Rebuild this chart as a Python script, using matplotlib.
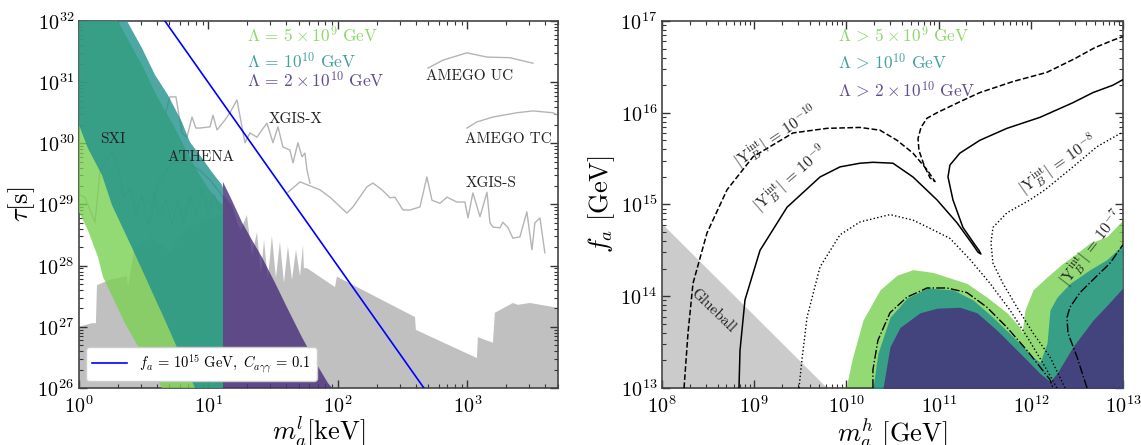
import numpy as np
import matplotlib
matplotlib.use("Agg")
import matplotlib.pyplot as plt

plt.rcParams['mathtext.fontset'] = 'cm'
plt.rcParams['font.family'] = 'serif'
plt.rcParams['font.serif'] = ['cmr10', 'DejaVu Serif']
plt.rcParams['axes.formatter.use_mathtext'] = True

# ---------------- left panel data (log10 m [keV], log10 tau [s]) ----------------
gray_lm = [0.000, 0.100, 0.131, 0.139, 0.239, 0.371, 0.378, 0.394, 0.425, 0.564, 0.703, 0.819,
           0.950, 1.104, 1.112, 1.181, 1.243, 1.297, 1.336, 1.375, 1.405, 1.429, 1.459, 1.490,
           1.521, 1.552, 1.583, 1.614, 1.645, 1.676, 1.707, 1.730, 1.737, 1.761, 1.977, 1.992,
           2.595, 2.602, 3.073, 3.081, 3.197, 3.212, 3.351, 3.390, 3.483, 3.699]
gray_lt = [27.00, 27.06, 27.06, 27.68, 27.77, 27.83, 27.65, 27.83, 28.26, 28.47, 28.21, 28.58,
           28.72, 28.83, 29.16, 28.99, 28.55, 28.83, 28.17, 28.55, 27.85, 28.42, 27.77, 28.49,
           27.80, 28.39, 27.72, 28.32, 27.77, 28.26, 27.83, 28.34, 27.96, 27.96, 27.65, 27.82,
           27.16, 26.95, 26.49, 26.83, 26.74, 27.23, 27.39, 27.36, 27.39, 27.31]

green_top_lm = [0.301, 0.486, 0.610, 0.741, 0.819, 0.919, 0.996, 1.073, 1.112]
green_top_lt = [32.00, 31.28, 30.74, 30.25, 29.92, 29.53, 29.27, 29.07, 28.99]
green_bot_lm = [0.000, 0.069, 0.147, 0.185, 0.355, 0.486, 0.641]
green_bot_lt = [28.88, 28.58, 28.14, 27.82, 27.06, 26.57, 26.00]

teal_top_lm = [0.371, 0.486, 0.587, 0.687, 0.795, 0.857, 0.950, 1.027, 1.104, 1.112]
teal_top_lt = [32.00, 31.56, 31.12, 30.79, 30.35, 30.02, 29.76, 29.53, 29.32, 29.27]
teal_bot_lm = [0.000, 0.069, 0.178, 0.255, 0.417, 0.664, 0.896]
teal_bot_lt = [30.30, 29.92, 29.48, 28.99, 28.26, 27.11, 26.00]

purple_lm = [1.112, 1.181, 1.259, 1.336, 1.413, 1.514, 1.606, 1.722, 1.830, 1.923, 1.954]
purple_lt = [29.37, 29.07, 28.71, 28.42, 28.14, 27.72, 27.32, 26.83, 26.41, 26.08, 26.00]

sxi_lm = [0.000, 0.046, 0.085, 0.124, 0.162, 0.208, 0.255, 0.301, 0.347, 0.394, 0.440, 0.486,
          0.533, 0.579, 0.625, 0.672, 0.718, 0.764, 0.811, 0.857, 0.903, 0.950, 0.996, 1.042,
          1.089, 1.135, 1.181]
sxi_lt = [29.16, 29.12, 28.91, 28.71, 29.53, 29.73, 29.86, 29.60, 29.11, 29.27, 28.83, 29.16,
          28.67, 29.20, 28.78, 29.11, 28.67, 29.07, 28.71, 29.14, 28.83, 29.24, 28.88, 29.16,
          28.91, 29.07, 28.83]
athena_lm = [0.548, 0.610, 0.664, 0.718, 0.780, 0.857, 0.934, 1.012, 1.073, 1.127, 1.181, 1.243]
athena_lt = [28.67, 29.32, 29.53, 29.68, 29.69, 29.65, 29.56, 29.40, 29.24, 29.07, 28.83, 28.58]
xgisx_lm = [0.664, 0.703, 0.749, 0.795, 0.834, 0.873, 0.903, 0.934, 1.012, 1.035, 1.066, 1.127,
            1.166, 1.220, 1.282, 1.320, 1.375, 1.413, 1.452, 1.498, 1.537, 1.575, 1.629, 1.653,
            1.691, 1.722, 1.745, 1.761, 1.784]
xgisx_lt = [30.46, 30.76, 30.76, 30.17, 30.10, 30.43, 30.25, 30.25, 30.27, 30.46, 30.22, 30.38,
            30.50, 30.71, 30.01, 30.17, 30.10, 30.22, 30.33, 30.01, 30.27, 29.94, 29.89, 29.68,
            30.01, 29.78, 29.84, 29.56, 29.35]
xgiss_lm = [1.614, 1.707, 1.861, 1.938, 2.069, 2.116, 2.224, 2.270, 2.340, 2.402, 2.440, 2.502,
            2.556, 2.633, 2.687, 2.726, 2.788, 2.842, 2.919, 2.981, 3.004, 3.042, 3.097, 3.151,
            3.174, 3.197, 3.251, 3.274, 3.313, 3.351, 3.405, 3.459, 3.498, 3.521, 3.560, 3.598]
xgiss_lt = [29.20, 29.37, 29.24, 29.12, 28.86, 28.96, 29.29, 29.35, 29.24, 29.11, 29.12, 28.91,
            28.91, 28.96, 29.45, 29.07, 29.02, 29.12, 29.04, 29.04, 28.78, 29.19, 28.80, 29.20,
            28.70, 28.63, 28.62, 28.71, 28.62, 28.45, 28.47, 28.88, 28.26, 28.70, 28.78, 28.21]
amego_uc_lm = [2.695, 2.811, 2.996, 3.151, 3.328, 3.506]
amego_uc_lt = [31.23, 31.36, 31.48, 31.41, 31.40, 31.31]
amego_tc_lm = [2.996, 3.073, 3.197, 3.382, 3.506, 3.660, 3.699]
amego_tc_lt = [30.25, 30.35, 30.43, 30.50, 30.53, 30.50, 30.46]

blue_m = [4.61, 461.0]
blue_tau = [1e32, 1e26]

left_labels = ['SXI', 'ATHENA', 'XGIS-X', 'AMEGO UC', 'AMEGO TC', 'XGIS-S']
lambda_left = [r'$\Lambda\, =\, 5\times 10^{9}\ \mathrm{GeV}$', r'$\Lambda\, =\, 10^{10}\ \mathrm{GeV}$',
               r'$\Lambda\, =\, 2\times 10^{10}\ \mathrm{GeV}$']
lambda_right = [r'$\Lambda\, >\, 5\times 10^{9}\ \mathrm{GeV}$', r'$\Lambda\, >\, 10^{10}\ \mathrm{GeV}$',
                r'$\Lambda\, >\, 2\times 10^{10}\ \mathrm{GeV}$']

# ---------------- right panel data (log10 m [GeV], log10 f_a [GeV]) ----------------
glue_lm = [8.0, 9.79]
glue_lf = [14.79, 13.0]

y10_lm = [8.239, 8.282, 8.336, 8.488, 8.705, 8.987, 9.421, 9.790, 10.148, 10.364, 10.549, 10.722,
          10.874, 10.961, 10.907, 10.842, 10.787, 10.777, 10.809, 10.874, 10.982, 11.231, 11.448,
          11.806, 12.174, 12.478, 12.695, 12.890, 12.998]
y10_lf = [13.00, 13.60, 14.14, 14.69, 15.16, 15.52, 15.78, 15.83, 15.84, 15.81, 15.70, 15.56,
          15.38, 15.25, 15.29, 15.43, 15.59, 15.72, 15.84, 15.94, 16.00, 16.12, 16.22,
          16.34, 16.44, 16.59, 16.71, 16.79, 16.83]
y9_lm = [8.835, 8.846, 8.900, 9.063, 9.356, 9.714, 9.931, 10.148, 10.288, 10.505, 10.722, 10.983,
         11.200, 11.373, 11.427, 11.459, 11.438, 11.395, 11.264, 11.156, 11.102, 11.123, 11.231,
         11.448, 11.741, 12.100, 12.458, 12.675, 12.890, 12.998]
y9_lf = [13.00, 13.41, 13.96, 14.50, 14.97, 15.30, 15.41, 15.45, 15.46, 15.45, 15.30, 15.05,
         14.80, 14.56, 14.48, 14.46, 14.50, 14.56, 14.75, 15.05, 15.30, 15.43, 15.56,
         15.70, 15.83, 15.95, 16.11, 16.22, 16.30, 16.36]
y8a_lm = [9.486, 9.518, 9.573, 9.714, 9.931, 10.148, 10.473, 10.722, 10.907, 11.124, 11.341,
          11.558, 11.774, 11.959, 12.132, 12.284]
y8a_lf = [13.00, 13.31, 13.77, 14.32, 14.67, 14.81, 14.89, 14.83, 14.74, 14.63, 14.40,
          14.14, 13.85, 13.56, 13.27, 13.00]
y8b_lm = [12.371, 12.208, 12.024, 11.850, 11.698, 11.590, 11.568, 11.590, 11.742, 11.991,
          12.154, 12.458, 12.718, 12.998]
y8b_lf = [13.00, 13.34, 13.60, 13.88, 14.14, 14.36, 14.58, 14.75, 14.91, 15.05,
          15.16, 15.41, 15.63, 15.79]
y7a_lm = [10.288, 10.288, 10.342, 10.473, 10.657, 10.874, 11.091, 11.308, 11.525, 11.742,
          11.959, 12.100, 12.208, 12.241]
y7a_lf = [13.00, 13.20, 13.52, 13.82, 13.99, 14.09, 14.09, 14.04, 13.88, 13.66,
          13.41, 13.23, 13.09, 13.00]
y7b_lm = [12.610, 12.501, 12.403, 12.393, 12.425, 12.534, 12.675, 12.859, 12.998]
y7b_lf = [13.00, 13.34, 13.60, 13.77, 13.88, 14.04, 14.18, 14.36, 14.56]

g5_lm = [9.996, 10.061, 10.180, 10.364, 10.549, 10.722, 10.939, 11.091, 11.308, 11.525, 11.742,
         11.883, 11.905, 11.937, 12.024, 12.176, 12.349, 12.501, 12.642, 12.826, 12.998]
g5_lf = [13.00, 13.31, 13.74, 14.07, 14.23, 14.29, 14.26, 14.21, 14.14, 13.99, 13.82,
         13.66, 13.60, 13.85, 14.07, 14.21, 14.36, 14.47, 14.58, 14.65, 14.83]
t10_lm = [10.288, 10.342, 10.473, 10.657, 10.874, 11.156, 11.373, 11.590, 11.807, 12.024, 12.100,
          12.176, 12.208, 12.284, 12.425, 12.642, 12.826, 12.998]
t10_lf = [13.00, 13.38, 13.77, 13.98, 14.09, 14.07, 13.96, 13.77, 13.56, 13.34, 13.28,
          13.49, 13.85, 13.99, 14.14, 14.29, 14.40, 14.56]
p20_lm = [10.397, 10.473, 10.581, 10.798, 10.983, 11.232, 11.416, 11.633, 11.883, 12.100, 12.208,
          12.284, 12.458, 12.675, 12.826, 12.998]
p20_lf = [13.00, 13.45, 13.66, 13.82, 13.87, 13.88, 13.82, 13.63, 13.38, 13.16, 13.07,
          13.16, 13.45, 13.74, 13.90, 14.09]

yb_labels = [r'$|\mathrm{Y}_B^{\rm int}|\, =\, 10^{-10}$', r'$|\mathrm{Y}_B^{\rm int}|\, =\, 10^{-9}$',
             r'$|\mathrm{Y}_B^{\rm int}|\, =\, 10^{-8}$', r'$|\mathrm{Y}_B^{\rm int}|\, =\, 10^{-7}$']

c_green, c_teal, c_purple = '#7ad151', '#21918c', '#472d7b'
c_gline = '#b4b4b4'


def P(a):
    return 10 ** np.asarray(a, dtype=float)


fig = plt.figure(figsize=(11.41, 4.45), dpi=100)
ax1 = fig.add_axes([0.0692, 0.1281, 0.4198, 0.8247])
ax2 = fig.add_axes([0.5802, 0.1281, 0.4040, 0.8247])

# ---------------- left ----------------
ax1.fill_between(P(gray_lm), 1e20, P(gray_lt), color='#c0c0c0', lw=0, zorder=1)
for lm, lt in [(sxi_lm, sxi_lt), (athena_lm, athena_lt), (xgisx_lm, xgisx_lt),
               (xgiss_lm, xgiss_lt), (amego_uc_lm, amego_uc_lt), (amego_tc_lm, amego_tc_lt)]:
    ax1.plot(P(lm), P(lt), color=c_gline, lw=1.0, zorder=2)

gx = [0.0] + green_top_lm + [1.112] + green_bot_lm[::-1]
gy = [32.0] + green_top_lt + [26.0] + green_bot_lt[::-1]
ax1.fill(P(gx), P(gy), color=c_green, alpha=0.8, lw=0, zorder=3)
tx = [0.0] + teal_top_lm + [1.112] + teal_bot_lm[::-1]
ty = [32.0] + teal_top_lt + [26.0] + teal_bot_lt[::-1]
ax1.fill(P(tx), P(ty), color=c_teal, alpha=0.8, lw=0, zorder=4)
px_ = purple_lm + [1.112]
py_ = purple_lt + [26.0]
ax1.fill(P(px_), P(py_), color=c_purple, alpha=0.8, lw=0, zorder=5)

ax1.plot(blue_m, blue_tau, color='blue', lw=1.2, zorder=6,
         label=r'$f_a\, =\, 10^{15}\ \mathrm{GeV},\ C_{a\gamma\gamma}\, =\, 0.1$')

lab_pos = [(0.071, 0.678), (0.255, 0.629), (0.453, 0.733), (0.816, 0.850), (0.896, 0.678), (0.860, 0.559)]
for s, (x, y) in zip(left_labels, lab_pos):
    ax1.text(x, y, s, transform=ax1.transAxes, ha='center', va='center', fontsize=11,
             color='#222222', zorder=7)
for s, c, y in zip(lambda_left, [c_green, c_teal, c_purple], [0.962, 0.891, 0.839]):
    ax1.text(0.351, y, s, transform=ax1.transAxes, ha='left', va='center', fontsize=12.5,
             color=c, alpha=0.85, zorder=7)

ax1.set_xscale('log')
ax1.set_yscale('log')
ax1.set_xlim(1, 5000)
ax1.set_ylim(1e26, 1e32)
ax1.set_xlabel(r'$m_a^l[\mathrm{keV}]$', fontsize=19, labelpad=-1)
ax1.set_ylabel(r'$\tau[\mathrm{s}]$', fontsize=19, labelpad=0)
leg = ax1.legend(loc='lower left', fontsize=10.5, handlelength=2.4, framealpha=1,
                 edgecolor='#cccccc', borderaxespad=0.5)
leg.set_zorder(8)

# ---------------- right ----------------
ax2.fill_between(P(glue_lm), 1e12, P(glue_lf), color='#cbcbcb', lw=0, zorder=1)
ax2.fill_between(P(g5_lm), 1e12, P(g5_lf), color=c_green, alpha=0.8, lw=0, zorder=2)
ax2.fill_between(P(t10_lm), 1e12, P(t10_lf), color=c_teal, alpha=0.8, lw=0, zorder=3)
ax2.fill_between(P(p20_lm), 1e12, P(p20_lf), color=c_purple, alpha=0.8, lw=0, zorder=4)

ax2.plot(P(y10_lm), P(y10_lf), 'k--', lw=1.1, zorder=5)
ax2.plot(P(y9_lm), P(y9_lf), 'k-', lw=1.1, zorder=5)
ax2.plot(P(y8a_lm), P(y8a_lf), 'k:', lw=1.0, zorder=5)
ax2.plot(P(y8b_lm), P(y8b_lf), 'k:', lw=1.0, zorder=5)
ax2.plot(P(y7a_lm), P(y7a_lf), 'k-.', lw=1.0, zorder=5)
ax2.plot(P(y7b_lm), P(y7b_lf), 'k-.', lw=1.0, zorder=5)

yb_pos = [(0.247, 0.684, 34), (0.278, 0.572, 41), (0.859, 0.608, 35), (0.931, 0.381, 52)]
for s, (x, y, r) in zip(yb_labels, yb_pos):
    ax2.text(x, y, s, transform=ax2.transAxes, ha='center', va='center', rotation=r,
             fontsize=11.5, color='#222222', zorder=6)
ax2.text(0.111, 0.210, 'Glueball', transform=ax2.transAxes, ha='center', va='center',
         rotation=-44, fontsize=11, color='#222222', zorder=6)
for s, c, y in zip(lambda_right, [c_green, c_teal, c_purple], [0.962, 0.888, 0.812]):
    ax2.text(0.382, y, s, transform=ax2.transAxes, ha='left', va='center', fontsize=12.5,
             color=c, alpha=0.85, zorder=7)

ax2.set_xscale('log')
ax2.set_yscale('log')
ax2.set_xlim(1e8, 1e13)
ax2.set_ylim(1e13, 1e17)
ax2.set_xlabel(r'$m_a^h\ [\mathrm{GeV}]$', fontsize=19, labelpad=-1)
ax2.set_ylabel(r'$f_a\ [\mathrm{GeV}]$', fontsize=19, labelpad=2)

for ax in (ax1, ax2):
    ax.tick_params(which='both', direction='in', top=True, right=True, labelsize=14.5,
                   color='#333333')
    ax.tick_params(axis='x', which='major', pad=5)
    ax.tick_params(which='major', length=6, width=1.0)
    ax.tick_params(which='minor', length=3, width=0.8)
    for sp in ax.spines.values():
        sp.set_color('#444444')
        sp.set_linewidth(1.2)

fig.savefig('out.png', dpi=100)
